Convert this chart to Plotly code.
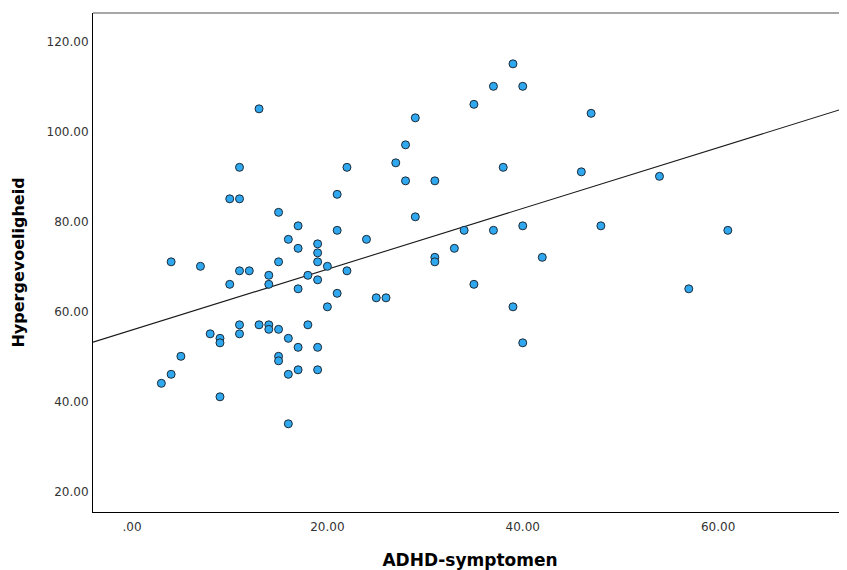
import numpy as np
import plotly.graph_objects as go

# ADHD-symptomen (x) and Hypergevoeligheid (y)
adhd = [3, 4, 5, 4, 7, 8, 9, 9, 9, 10, 10, 11, 11, 11, 11, 11, 12, 13, 13, 14,
        14, 14, 14, 15, 15, 15, 15, 15, 16, 16, 16, 16, 17, 17, 17, 17, 17, 18,
        18, 19, 19, 19, 19, 19, 19, 20, 20, 21, 21, 21, 22, 22, 24, 25, 26, 27,
        28, 28, 29, 29, 31, 31, 31, 33, 34, 35, 35, 37, 37, 38, 39, 39, 40, 40,
        40, 42, 46, 47, 48, 54, 57, 61]
hyper = [44, 46, 50, 71, 70, 55, 54, 53, 41, 66, 85, 85, 92, 69, 57, 55, 69, 105, 57, 68,
         66, 57, 56, 82, 71, 56, 50, 49, 76, 54, 46, 35, 79, 74, 65, 52, 47, 68,
         57, 75, 73, 71, 67, 52, 47, 70, 61, 86, 78, 64, 92, 69, 76, 63, 63, 93,
         97, 89, 103, 81, 89, 72, 71, 74, 78, 106, 66, 110, 78, 92, 115, 61, 110, 79,
         53, 72, 91, 104, 79, 90, 65, 78]

x_tickvals = [0, 20, 40, 60]
x_ticktext = [".00", "20.00", "40.00", "60.00"]
y_tickvals = [20, 40, 60, 80, 100, 120]
y_ticktext = ["20.00", "40.00", "60.00", "80.00", "100.00", "120.00"]

x_range = [-4.0, 73.2]
y_range = [15.4, 126.3]

slope, intercept = np.polyfit(np.array(adhd, float), np.array(hyper, float), 1)
fit_x = np.array(x_range)
fit_y = intercept + slope * fit_x

fig = go.Figure()
fig.add_trace(go.Scatter(
    x=fit_x, y=fit_y, mode="lines",
    line=dict(color="#1a1a1a", width=1.1),
    hoverinfo="skip", showlegend=False,
))
fig.add_trace(go.Scatter(
    x=adhd, y=hyper, mode="markers",
    marker=dict(size=8, color="#30a8ef", line=dict(color="#1c2a36", width=1)),
    showlegend=False,
))

tick_font = dict(family="DejaVu Sans", size=12, color="#333333")
fig.update_layout(
    width=847, height=570,
    margin=dict(l=85, r=8, t=5, b=66),
    paper_bgcolor="white", plot_bgcolor="white",
    showlegend=False,
)
fig.update_xaxes(
    range=x_range, tickvals=x_tickvals, ticktext=x_ticktext,
    showgrid=False, zeroline=False, showline=True, linecolor="black", linewidth=1,
    ticks="", ticklabelstandoff=4, tickfont=tick_font, automargin=False,
    title=dict(text="<b>ADHD-symptomen</b>", font=dict(family="DejaVu Sans", size=17, color="black"),
               standoff=20),
)
fig.update_yaxes(
    range=y_range, tickvals=y_tickvals, ticktext=y_ticktext,
    showgrid=False, zeroline=False, showline=True, linecolor="black", linewidth=1,
    ticks="", ticklabelstandoff=1, tickfont=tick_font, automargin=False,
    title=dict(text="<b>Hypergevoeligheid</b>", font=dict(family="DejaVu Sans", size=16, color="black"),
               standoff=17),
)
fig.add_shape(type="line", xref="paper", yref="paper", x0=0, x1=1, y0=1, y1=1,
              line=dict(color="#8a8a8a", width=1.5))

fig.write_html("out.html")
